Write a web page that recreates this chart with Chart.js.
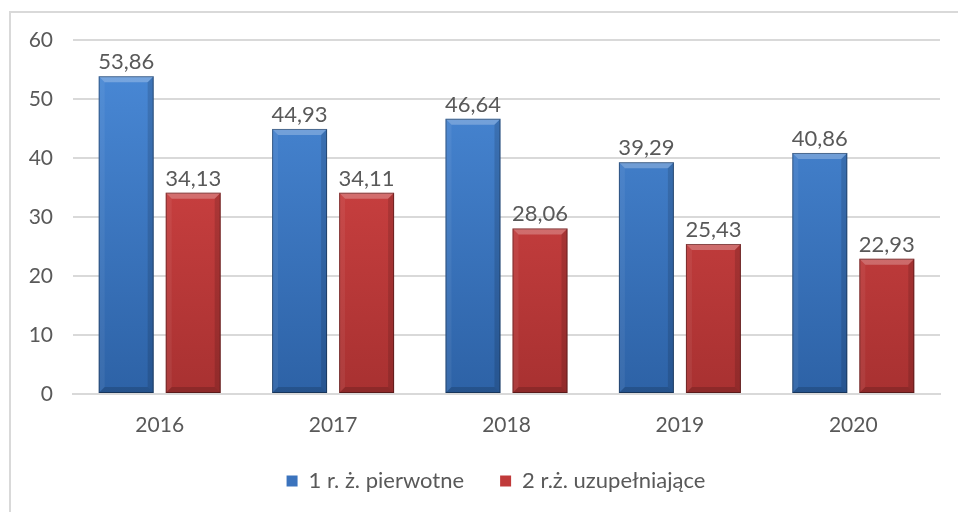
<!DOCTYPE html>
<html>
<head>
<meta charset="utf-8">
<script src="https://cdn.jsdelivr.net/npm/chart.js@4"></script>
<style>
  html, body { margin: 0; padding: 0; background: #fff; }
  #wrap { width: 958px; height: 512px; position: relative; }
</style>
</head>
<body>
<div id="wrap"><canvas id="chart" width="958" height="512"></canvas></div>
<script>
const years = ['2016', '2017', '2018', '2019', '2020'];
const primaryValues = [53.86, 44.93, 46.64, 39.29, 40.86];
const supplementValues = [34.13, 34.11, 28.06, 25.43, 22.93];
const seriesNames = ['1 r. ż. pierwotne', '2 r.ż. uzupełniające'];
const yTicks = [0, 10, 20, 30, 40, 50, 60];

const textColor = '#595959';
const font = 'Lato';

function barGradient(top, bottom) {
  return function(context) {
    const area = context.chart.chartArea;
    if (!area) return top;
    const g = context.chart.ctx.createLinearGradient(0, area.top, 0, area.bottom);
    g.addColorStop(0, top);
    g.addColorStop(1, bottom);
    return g;
  };
}

const framePlugin = {
  id: 'frame',
  beforeDraw(chart) {
    const c = chart.ctx;
    c.save();
    c.fillStyle = '#fff';
    c.fillRect(0, 0, chart.width, chart.height);
    c.strokeStyle = '#d9d9d9';
    c.lineWidth = 2;
    c.strokeRect(10, 12, 1000, 1000);
    c.restore();
  }
};

// nudge the legend so it sits where the original one does
const legendShift = {
  id: 'legendShift',
  afterLayout(chart) {
    const lg = chart.legend;
    if (!lg) return;
    lg.left += 26; lg.right += 26;
    lg.top -= 7; lg.bottom -= 7;
  }
};

const bevelPlugin = {
  id: 'bevel',
  afterDatasetsDraw(chart) {
    const c = chart.ctx;
    chart.data.datasets.forEach((ds, i) => {
      const meta = chart.getDatasetMeta(i);
      meta.data.forEach((bar, j) => {
        const l = bar.x - bar.width / 2, r = bar.x + bar.width / 2;
        const t = bar.y, b = bar.base;
        const e = 6;
        c.save();
        // top highlight
        c.fillStyle = 'rgba(255,255,255,0.25)';
        c.beginPath();
        c.moveTo(l, t); c.lineTo(r, t); c.lineTo(r - e, t + e); c.lineTo(l + e, t + e);
        c.closePath(); c.fill();
        // left
        c.fillStyle = 'rgba(255,255,255,0.06)';
        c.beginPath();
        c.moveTo(l, t); c.lineTo(l + e, t + e); c.lineTo(l + e, b - e); c.lineTo(l, b);
        c.closePath(); c.fill();
        // right
        c.fillStyle = 'rgba(0,0,0,0.13)';
        c.beginPath();
        c.moveTo(r, t); c.lineTo(r - e, t + e); c.lineTo(r - e, b - e); c.lineTo(r, b);
        c.closePath(); c.fill();
        // bottom
        c.fillStyle = 'rgba(0,0,0,0.16)';
        c.beginPath();
        c.moveTo(l, b); c.lineTo(l + e, b - e); c.lineTo(r - e, b - e); c.lineTo(r, b);
        c.closePath(); c.fill();
        c.strokeStyle = 'rgba(0,0,0,0.35)';
        c.lineWidth = 1;
        c.strokeRect(l + 0.5, t + 0.5, bar.width - 1, b - t - 1);
        // value label
        c.fillStyle = textColor;
        c.font = '22px ' + font;
        c.textAlign = 'center';
        c.textBaseline = 'alphabetic';
        c.fillText(ds.data[j].toFixed(2).replace('.', ','), bar.x, t - 7);
        c.restore();
      });
    });
  }
};

new Chart(document.getElementById('chart'), {
  type: 'bar',
  data: {
    labels: years,
    datasets: [
      {
        label: seriesNames[0],
        data: primaryValues,
        backgroundColor: barGradient('#4b8bd9', '#2d62a6'),
        solid: '#3b73bd'
      },
      {
        label: seriesNames[1],
        data: supplementValues,
        backgroundColor: barGradient('#dc4848', '#a83131'),
        solid: '#c03a3a'
      }
    ]
  },
  options: {
    responsive: false,
    animation: false,
    devicePixelRatio: 1,
    categoryPercentage: 0.773,
    barPercentage: 0.82,
    layout: { padding: { left: 0, right: 18, top: 40, bottom: 3 } },
    scales: {
      x: {
        grid: { display: false, drawTicks: false },
        border: { color: '#d9d9d9', width: 2 },
        ticks: { color: textColor, font: { family: font, size: 21 }, padding: 19 },
        afterFit(s) { s.height = 47; }
      },
      y: {
        min: 0,
        max: 60,
        afterBuildTicks(s) { s.ticks = yTicks.map(v => ({ value: v })); },
        grid: { color: '#d9d9d9', lineWidth: 2, drawTicks: false },
        border: { display: false },
        ticks: { color: textColor, font: { family: font, size: 21 }, padding: 20 },
        afterFit(s) { s.width = 73; }
      }
    },
    plugins: {
      tooltip: { enabled: false },
      legend: {
        position: 'bottom',
        maxHeight: 70,
        labels: {
          color: textColor,
          font: { family: font, size: 22 },
          boxWidth: 11,
          boxHeight: 11,
          padding: 36,
          generateLabels(chart) {
            return chart.data.datasets.map((ds, i) => ({
              text: ds.label,
              fillStyle: ds.solid,
              strokeStyle: ds.solid,
              lineWidth: 0,
              fontColor: textColor,
              datasetIndex: i
            }));
          }
        }
      }
    }
  },
  plugins: [framePlugin, legendShift, bevelPlugin]
});
</script>
</body>
</html>
